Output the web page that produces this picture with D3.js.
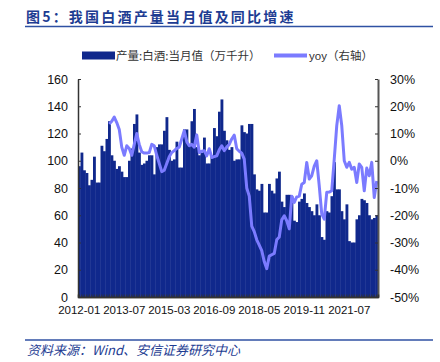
<!DOCTYPE html>
<html>
<head>
<meta charset="utf-8">
<script src="https://cdn.jsdelivr.net/npm/d3@7/dist/d3.min.js"></script>
<style>
  html, body { margin: 0; padding: 0; background: #fff; }
  svg { display: block; }
  text { font-family: "Liberation Sans", Arial, sans-serif; }
  .cjk { font-family: "Noto Sans CJK SC", sans-serif; }
</style>
</head>
<body>
<div id="chart"></div>
<script>
// months in the series (Jan skipped in some years, as in the source)
var startYear = 2012, endYear = 2022, lastMonth = 6;
var skipped = ['2014-01', '2015-01', '2017-01', '2018-01', '2020-01', '2021-01'];

var tickLabels = ['2012-01', '2013-07', '2015-03', '2016-09', '2018-05', '2019-11', '2021-07'];

// 产量:白酒:当月值（万千升）
var output = [
    96, 106, 93, 91, 82, 86, 103, 84, 84, 111, 107, 116,
    129, 104, 100, 94, 96, 92, 88, 88, 100, 109, 127, 134,
    106, 97, 98, 100, 104, 104, 90, 110, 112, 112, 122, 132,
    108, 100, 101, 114, 95, 95, 123, 123, 111, 129, 138, 110,
    104, 106, 117, 98, 98, 104, 124, 118, 136, 145, 122, 115,
    108, 110, 100, 101, 101, 126, 121, 120, 127, 127, 90, 79,
    78, 83, 62, 62, 83, 78, 76, 87, 92, 70, 66, 75,
    75, 74, 56, 55, 70, 72, 76, 69, 66, 63, 60, 68,
    60, 44, 42, 63, 62, 74, 99, 79, 79, 63, 57, 68,
    41, 40, 40, 57, 60, 72, 71, 69, 60, 57, 58, 60
];

// yoy（右轴）, %
var yoy = [
    null, null, null, null, null, null, null, null, null, null, null, null,
    13.5, 14.5, 16, 14, 11.5, 5, 2, 5.5, 4.5, 2, 6, 10,
    6, 3.3, 2.8, 2.8, 3, 6, 5.5, 2, -1, -4, -3.5, -1,
    1.5, 3, 3.7, 4.5, 5, 8, 11, 7, 5.5, 6, 5, 9.5,
    3, 3.5, 3.7, 1.8, 4.4, 1.2, 1.5, 1.8, 4, 5.5, 3.7, 5,
    6, 8, 9.4, 4.4, 3.5, 2.8, 0.6, -10, -13, -24, -26, -29,
    -31, -33, -37, -39.6, -35, -34.5, -34, -29, -28, -21.7, -20.2, -22,
    -25, -13, -15.3, -13.3, -13, -8.6, -8, -0.6, -6.7, -5.5, -2, 0,
    -9.2, -19.6, -21.4, -11.6, -11.5, -11, 0.6, 12.9, 20.2, 12.9, 0, -2.4,
    -0.6, -3.1, -2.4, -8, -1.2, -2.4, -11, -2.7, -5.5, -0.6, -13.5, -7.4
];

var categories = [];
for (var yr = startYear; yr <= endYear; yr++) {
    for (var m = 1; m <= 12; m++) {
        if (yr === endYear && m > lastMonth) break;
        var key = yr + '-' + (m < 10 ? '0' + m : m);
        if (skipped.indexOf(key) < 0) categories.push(key);
    }
}

var W = 440, H = 362;
var plotL = 78, plotR = 378, plotT = 79, plotB = 297;
var navy = '#10288c', lineBlue = '#7b7bff', titleBlue = '#1d3c92';

var svg = d3.select('#chart').append('svg')
    .attr('width', W)
    .attr('height', H);

// title
svg.append('text')
    .attr('class', 'cjk')
    .attr('x', 26)
    .attr('y', 22)
    .attr('font-size', 14)
    .attr('font-weight', 'bold')
    .attr('letter-spacing', 2.2)
    .attr('fill', titleBlue)
    .text('图5：我国白酒产量当月值及同比增速');

svg.append('line')
    .attr('x1', 25).attr('x2', 433)
    .attr('y1', 26.5).attr('y2', 26.5)
    .attr('stroke', '#2f51a3')
    .attr('stroke-width', 1.5);

// legend
var legend = svg.append('g').attr('font-size', 11.5).attr('fill', '#333');
legend.append('rect')
    .attr('x', 82).attr('y', 51.5)
    .attr('width', 33).attr('height', 8)
    .attr('fill', navy);
legend.append('text')
    .attr('class', 'cjk')
    .attr('x', 116).attr('y', 59.5)
    .text('产量:白酒:当月值（万千升）');
legend.append('line')
    .attr('x1', 274).attr('x2', 307)
    .attr('y1', 55.5).attr('y2', 55.5)
    .attr('stroke', lineBlue)
    .attr('stroke-width', 4);
legend.append('text')
    .attr('x', 309).attr('y', 59.5)
    .text('yoy')
    .append('tspan')
    .attr('font-family', '"Noto Sans CJK SC", sans-serif')
    .text('（右轴）');

// scales
var x = d3.scaleBand().domain(categories).range([plotL, plotR]).padding(0);
var yL = d3.scaleLinear().domain([0, 160]).range([plotB, plotT]);
var yR = d3.scaleLinear().domain([-50, 30]).range([plotB, plotT]);

// bars
svg.append('g')
    .selectAll('rect')
    .data(output)
    .enter()
    .append('rect')
    .attr('x', function (d, i) { return x(categories[i]); })
    .attr('width', x.bandwidth() + 0.35)
    .attr('y', function (d) { return yL(d); })
    .attr('height', function (d) { return plotB - yL(d); })
    .attr('fill', navy);

// yoy line
var line = d3.line()
    .defined(function (d) { return d != null; })
    .x(function (d, i) { return x(categories[i]) + x.bandwidth() / 2; })
    .y(function (d) { return yR(d); });

svg.append('path')
    .datum(yoy)
    .attr('d', line)
    .attr('fill', 'none')
    .attr('stroke', lineBlue)
    .attr('stroke-width', 3)
    .attr('stroke-linejoin', 'round');

// axes
var axisColor = '#333';

var gL = svg.append('g')
    .attr('transform', 'translate(' + plotL + ',0)')
    .call(d3.axisLeft(yL).tickValues(d3.range(0, 161, 20)).tickSizeInner(-3).tickSizeOuter(0).tickPadding(10));

var gR = svg.append('g')
    .attr('transform', 'translate(' + plotR + ',0)')
    .call(d3.axisRight(yR).tickValues(d3.range(-50, 31, 10)).tickSizeInner(-3).tickSizeOuter(0).tickPadding(12)
        .tickFormat(function (d) { return d + '%'; }));

var gX = svg.append('g')
    .attr('transform', 'translate(0,' + plotB + ')')
    .call(d3.axisBottom(x).tickValues(tickLabels).tickSize(0).tickPadding(9));

var gMinor = svg.append('g')
    .attr('transform', 'translate(0,' + plotB + ')')
    .call(d3.axisBottom(x).tickValues(categories).tickSize(-2.5).tickFormat(''));

[gL, gR, gX, gMinor].forEach(function (g) {
    g.selectAll('.domain').attr('stroke', axisColor).attr('stroke-width', 1.5);
    g.selectAll('.tick line').attr('stroke', axisColor);
    g.selectAll('text').attr('fill', '#111').attr('font-family', '"Liberation Sans", Arial, sans-serif');
});
gL.selectAll('text').attr('font-size', 12.5);
gR.selectAll('text').attr('font-size', 12.5);
gX.selectAll('text').attr('font-size', 11.5);
gR.select('.domain').attr('stroke', '#555').attr('stroke-width', 2);

// footer
svg.append('line')
    .attr('x1', 25).attr('x2', 433)
    .attr('y1', 340).attr('y2', 340)
    .attr('stroke', '#2f51a3')
    .attr('stroke-width', 1.5);

svg.append('text')
    .attr('class', 'cjk')
    .attr('x', 27)
    .attr('y', 355)
    .attr('font-size', 13)
    .attr('font-style', 'italic')
    .attr('fill', titleBlue)
    .text('资料来源：Wind、安信证券研究中心');
</script>
</body>
</html>
